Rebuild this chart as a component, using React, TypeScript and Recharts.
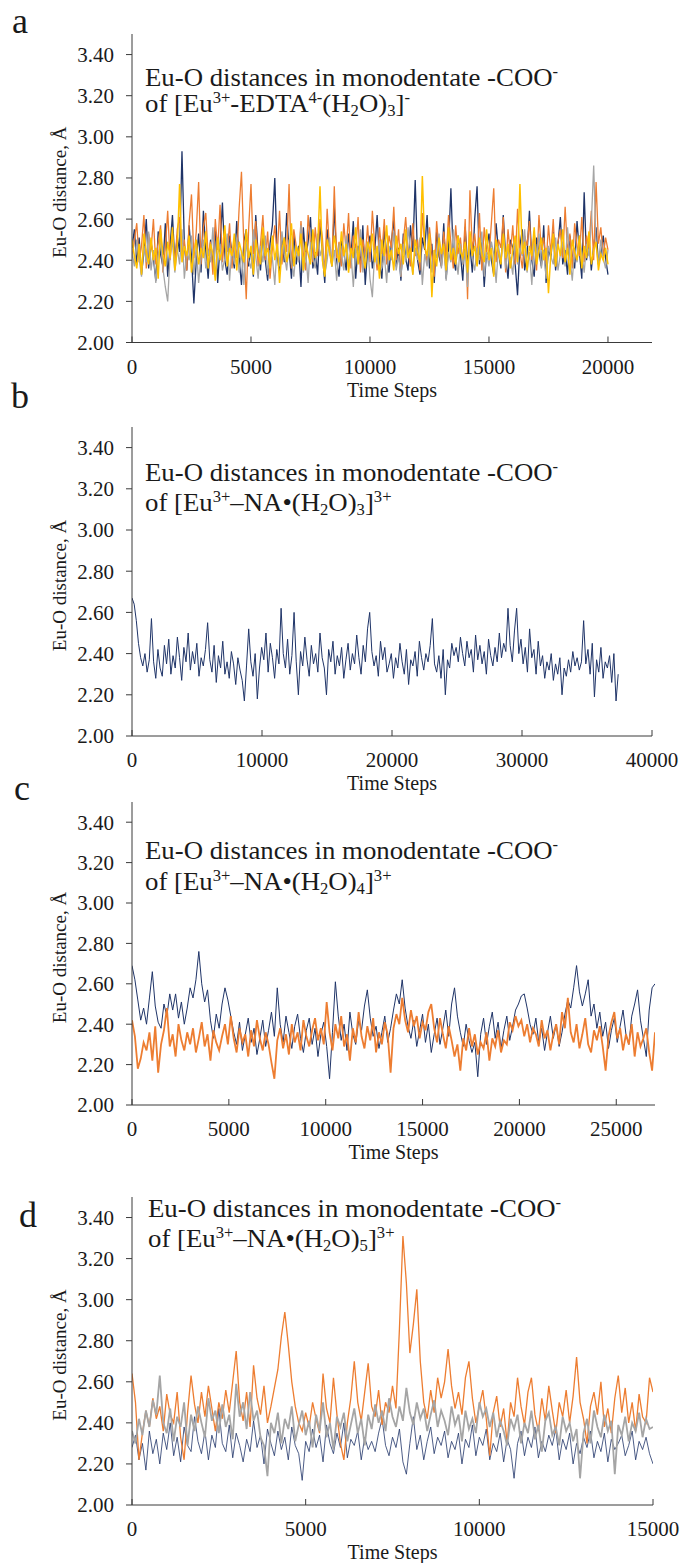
import React from "react";
import { LineChart, Line, XAxis, YAxis } from "recharts";

const FONT = '"Liberation Serif", "Times New Roman", Times, serif';
const AXIS = "#3a3a3a";
const TEXT = "#1a1a1a";
const NAVY = "#1f3468";
const ORANGE = "#ed7d31";
const GRAY = "#a5a5a5";
const YELLOW = "#ffc000";

const yTicks = [2.0, 2.2, 2.4, 2.6, 2.8, 3.0, 3.2, 3.4];

// ---- panel a : EDTA, 4 carboxylates ----
const aEnd = 20000;
const aTicks = [0, 5000, 10000, 15000, 20000];
const aNavy = [
  2.46, 2.55, 2.38, 2.51, 2.33, 2.44, 2.60, 2.36, 2.49, 2.41,
  2.30, 2.54, 2.43, 2.37, 2.58, 2.32, 2.47, 2.62, 2.39, 2.52,
  2.44, 2.93, 2.48, 2.35, 2.57, 2.42, 2.19, 2.40, 2.53, 2.34,
  2.64, 2.45, 2.31, 2.50, 2.38, 2.56, 2.29, 2.47, 2.68, 2.40,
  2.33, 2.52, 2.44, 2.36, 2.59, 2.41, 2.28, 2.49, 2.55, 2.37,
  2.46, 2.32, 2.62, 2.43, 2.35, 2.54, 2.40, 2.30, 2.48, 2.57,
  2.80, 2.42, 2.34, 2.51, 2.39, 2.63, 2.45, 2.31, 2.53, 2.38,
  2.47, 2.27, 2.56, 2.41, 2.49, 2.61, 2.36, 2.44, 2.33, 2.58,
  2.43, 2.29, 2.55, 2.46, 2.37, 2.66, 2.40, 2.32, 2.50, 2.44,
  2.35, 2.53, 2.42, 2.59, 2.31, 2.47, 2.38, 2.57, 2.28, 2.45,
  2.52, 2.36, 2.44, 2.62, 2.39, 2.31, 2.55, 2.43, 2.34, 2.49,
  2.60, 2.37, 2.46, 2.30, 2.53, 2.41, 2.35, 2.57, 2.44, 2.79,
  2.40, 2.33, 2.51, 2.45, 2.62, 2.36, 2.48, 2.29, 2.54, 2.42,
  2.37, 2.58, 2.31, 2.46, 2.75, 2.41, 2.35, 2.52, 2.43, 2.30,
  2.56, 2.39, 2.47, 2.34, 2.60, 2.76, 2.38, 2.49, 2.27, 2.45,
  2.53, 2.40, 2.33, 2.58, 2.44, 2.36, 2.62, 2.42, 2.31, 2.50,
  2.46, 2.38, 2.23, 2.47, 2.55, 2.35, 2.43, 2.64, 2.40, 2.32,
  2.51, 2.44, 2.37, 2.57, 2.29, 2.46, 2.41, 2.54, 2.35, 2.48,
  2.61, 2.38, 2.45, 2.33, 2.52, 2.42, 2.36, 2.59, 2.44, 2.31,
  2.73, 2.40, 2.50, 2.35, 2.47, 2.56, 2.38, 2.43, 2.52, 2.41,
  2.33,
];
const aOrange = [
  2.41, 2.50, 2.58, 2.39, 2.47, 2.62, 2.36, 2.53, 2.45, 2.60,
  2.38, 2.49, 2.57, 2.34, 2.46, 2.64, 2.40, 2.52, 2.37, 2.55,
  2.61, 2.43, 2.50, 2.35, 2.58, 2.72, 2.41, 2.54, 2.78, 2.38,
  2.56, 2.63, 2.42, 2.49, 2.33, 2.60, 2.45, 2.67, 2.39, 2.52,
  2.44, 2.58, 2.36, 2.50, 2.41, 2.65, 2.83, 2.47, 2.21, 2.55,
  2.77, 2.43, 2.59, 2.37, 2.48, 2.62, 2.40, 2.54, 2.31, 2.46,
  2.57, 2.42, 2.64, 2.38, 2.51, 2.44, 2.77, 2.36, 2.55, 2.47,
  2.40, 2.59, 2.43, 2.35, 2.62, 2.48, 2.39, 2.56, 2.42, 2.60,
  2.51, 2.33, 2.65, 2.45, 2.38, 2.76, 2.41, 2.49, 2.37, 2.58,
  2.44, 2.63, 2.36, 2.52, 2.45, 2.61, 2.34, 2.50, 2.42, 2.57,
  2.39, 2.64, 2.47, 2.35, 2.56, 2.43, 2.60, 2.38, 2.52, 2.46,
  2.66, 2.40, 2.55, 2.32, 2.49, 2.61, 2.44, 2.37, 2.58, 2.42,
  2.50, 2.35, 2.63, 2.47, 2.39, 2.56, 2.44, 2.32, 2.59, 2.45,
  2.37, 2.54, 2.41, 2.62, 2.48, 2.36, 2.57, 2.43, 2.51, 2.38,
  2.60, 2.21, 2.74, 2.45, 2.53, 2.40, 2.63, 2.35, 2.56, 2.44,
  2.42, 2.58, 2.75, 2.39, 2.50, 2.46, 2.61, 2.34, 2.55, 2.43,
  2.57, 2.38, 2.65, 2.44, 2.36, 2.52, 2.47, 2.59, 2.40, 2.54,
  2.35, 2.62, 2.45, 2.51, 2.38, 2.57, 2.43, 2.60, 2.37, 2.49,
  2.55, 2.41, 2.66, 2.44, 2.53, 2.36, 2.58, 2.47, 2.42, 2.61,
  2.39, 2.52, 2.46, 2.64, 2.40, 2.78, 2.48, 2.56, 2.42, 2.51,
  2.45,
];
const aGray = [
  2.44, 2.37, 2.50, 2.41, 2.32, 2.47, 2.39, 2.54, 2.35, 2.45,
  2.29, 2.42, 2.51, 2.36, 2.27, 2.20, 2.43, 2.49, 2.34, 2.46,
  2.38, 2.55, 2.31, 2.44, 2.40, 2.52, 2.33, 2.47, 2.29, 2.42,
  2.50, 2.36, 2.45, 2.39, 2.56, 2.32, 2.43, 2.48, 2.35, 2.41,
  2.53, 2.30, 2.46, 2.38, 2.51, 2.34, 2.44, 2.28, 2.49, 2.40,
  2.36, 2.55, 2.42, 2.31, 2.47, 2.39, 2.52, 2.33, 2.45, 2.41,
  2.28, 2.48, 2.37, 2.54, 2.43, 2.35, 2.50, 2.40, 2.32, 2.46,
  2.39, 2.57, 2.34, 2.44, 2.29, 2.49, 2.41, 2.36, 2.53, 2.42,
  2.47, 2.33, 2.40, 2.51, 2.37, 2.45, 2.30, 2.48, 2.43, 2.35,
  2.52, 2.38, 2.44, 2.27, 2.46, 2.41, 2.55, 2.34, 2.42, 2.49,
  2.31, 2.22, 2.45, 2.38, 2.50, 2.36, 2.43, 2.29, 2.47, 2.40,
  2.54, 2.35, 2.42, 2.32, 2.48, 2.39, 2.56, 2.44, 2.33, 2.46,
  2.40, 2.51, 2.28, 2.43, 2.37, 2.49, 2.34, 2.45, 2.41, 2.53,
  2.36, 2.47, 2.30, 2.44, 2.39, 2.55, 2.42, 2.33, 2.48, 2.38,
  2.45, 2.27, 2.50, 2.41, 2.35, 2.46, 2.40, 2.54, 2.32, 2.44,
  2.37, 2.49, 2.43, 2.29, 2.47, 2.39, 2.52, 2.36, 2.45, 2.41,
  2.33, 2.50, 2.38, 2.46, 2.42, 2.55, 2.34, 2.44, 2.28, 2.48,
  2.40, 2.53, 2.36, 2.45, 2.31, 2.47, 2.42, 2.38, 2.51, 2.35,
  2.43, 2.49, 2.37, 2.56, 2.41, 2.30, 2.46, 2.39, 2.52, 2.44,
  2.34, 2.48, 2.42, 2.58, 2.86, 2.47, 2.38, 2.50, 2.41, 2.36,
  2.45,
];
const aYellow = [
  2.50, 2.42, 2.36, 2.48, 2.33, 2.53, 2.44, 2.38, 2.51, 2.40,
  2.46, 2.31, 2.55, 2.43, 2.37, 2.49, 2.41, 2.56, 2.35, 2.45,
  2.77, 2.39, 2.47, 2.42, 2.52, 2.34, 2.44, 2.50, 2.38, 2.46,
  2.41, 2.54, 2.36, 2.48, 2.43, 2.30, 2.51, 2.40, 2.45, 2.57,
  2.37, 2.46, 2.42, 2.53, 2.35, 2.49, 2.44, 2.39, 2.55, 2.41,
  2.47, 2.33, 2.50, 2.43, 2.38, 2.56, 2.42, 2.46, 2.36, 2.52,
  2.40, 2.48, 2.29, 2.45, 2.51, 2.39, 2.44, 2.58, 2.37, 2.47,
  2.42, 2.53, 2.35, 2.49, 2.43, 2.38, 2.55, 2.41, 2.46, 2.76,
  2.40, 2.32, 2.50, 2.44, 2.37, 2.52, 2.45, 2.39, 2.54, 2.42,
  2.48, 2.34, 2.46, 2.41, 2.56, 2.38, 2.51, 2.43, 2.36, 2.49,
  2.44, 2.53, 2.39, 2.47, 2.31, 2.50, 2.42, 2.57, 2.40, 2.45,
  2.35, 2.52, 2.43, 2.48, 2.38, 2.55, 2.41, 2.46, 2.33, 2.50,
  2.44, 2.39, 2.81, 2.47, 2.42, 2.53, 2.22, 2.45, 2.37, 2.51,
  2.43, 2.48, 2.35, 2.56, 2.40, 2.46, 2.38, 2.52, 2.44, 2.41,
  2.49, 2.34, 2.54, 2.42, 2.47, 2.37, 2.51, 2.43, 2.39, 2.55,
  2.40, 2.46, 2.32, 2.50, 2.44, 2.38, 2.53, 2.41, 2.48, 2.36,
  2.45, 2.52, 2.39, 2.77, 2.43, 2.49, 2.35, 2.47, 2.42, 2.56,
  2.38, 2.45, 2.51, 2.40, 2.46, 2.24, 2.43, 2.53, 2.37, 2.48,
  2.42, 2.55, 2.39, 2.46, 2.33, 2.50, 2.44, 2.40, 2.52, 2.36,
  2.47, 2.41, 2.54, 2.38, 2.45, 2.49, 2.35, 2.43, 2.40, 2.46,
  2.38,
];

// ---- panel b : NA (H2O)3 ----
const bEnd = 37400;
const bTicks = [0, 10000, 20000, 30000, 40000];
const bNavy = [
  2.67, 2.64, 2.56, 2.45, 2.38, 2.34, 2.40, 2.31, 2.37, 2.57,
  2.36, 2.28, 2.42, 2.33, 2.29, 2.44, 2.35, 2.47, 2.30, 2.39,
  2.33, 2.48, 2.38, 2.27, 2.43, 2.36, 2.50, 2.32, 2.41, 2.35,
  2.45, 2.29, 2.38, 2.34, 2.42, 2.55, 2.37, 2.31, 2.44, 2.26,
  2.39, 2.33, 2.46, 2.30, 2.36, 2.28, 2.41, 2.35, 2.25, 2.38,
  2.32, 2.27, 2.17, 2.34, 2.52, 2.36, 2.29, 2.40, 2.18, 2.33,
  2.43, 2.37, 2.50, 2.31, 2.45, 2.38, 2.28, 2.42, 2.35, 2.62,
  2.40, 2.33, 2.47, 2.30, 2.39, 2.60, 2.36, 2.20, 2.41, 2.34,
  2.48, 2.37, 2.29, 2.44, 2.35, 2.40, 2.31, 2.50, 2.38, 2.33,
  2.20, 2.42, 2.36, 2.46, 2.30, 2.39, 2.34, 2.43, 2.28, 2.37,
  2.45, 2.32, 2.40, 2.35, 2.49, 2.38, 2.30, 2.44, 2.36, 2.52,
  2.60, 2.41, 2.34, 2.39, 2.29, 2.46, 2.37, 2.43, 2.31, 2.35,
  2.40, 2.28, 2.38, 2.33, 2.45, 2.36, 2.30, 2.42, 2.25, 2.37,
  2.34, 2.41, 2.29, 2.46, 2.38, 2.32, 2.40, 2.36, 2.44, 2.57,
  2.35, 2.31, 2.39, 2.28, 2.42, 2.20, 2.37, 2.33, 2.45, 2.39,
  2.43, 2.36, 2.48, 2.40, 2.34, 2.46, 2.38, 2.42, 2.31, 2.49,
  2.37, 2.44, 2.35, 2.41, 2.30, 2.47, 2.39, 2.34, 2.43, 2.36,
  2.50, 2.38, 2.45, 2.41, 2.62, 2.44, 2.36, 2.51, 2.62, 2.40,
  2.47, 2.35, 2.43, 2.31, 2.52, 2.38, 2.42, 2.30, 2.46, 2.34,
  2.39, 2.28, 2.36, 2.32, 2.40, 2.27, 2.35, 2.30, 2.38, 2.20,
  2.33, 2.29, 2.37, 2.31, 2.41, 2.34, 2.38, 2.32, 2.36, 2.56,
  2.35, 2.42, 2.30, 2.45, 2.19, 2.37, 2.31, 2.43, 2.28, 2.36,
  2.33, 2.39, 2.26, 2.40, 2.17, 2.30,
];

// ---- panel c : NA (H2O)4 ----
const cEnd = 27000;
const cTicks = [0, 5000, 10000, 15000, 20000, 25000];
const cNavy = [
  2.69, 2.62, 2.52, 2.42, 2.48, 2.40, 2.53, 2.66, 2.49, 2.41,
  2.38, 2.50, 2.44, 2.55, 2.47, 2.55, 2.43, 2.51, 2.40, 2.48,
  2.58, 2.53, 2.62, 2.76, 2.60, 2.51, 2.57, 2.42, 2.33, 2.45,
  2.38, 2.50, 2.58, 2.52, 2.44, 2.36, 2.30, 2.41, 2.27, 2.35,
  2.43, 2.31, 2.38, 2.25, 2.33, 2.42, 2.29, 2.37, 2.46, 2.34,
  2.58, 2.40, 2.31, 2.44, 2.36, 2.28, 2.39, 2.45, 2.33, 2.26,
  2.37, 2.43, 2.30, 2.38, 2.24, 2.35, 2.41, 2.29, 2.13, 2.36,
  2.61, 2.44, 2.32, 2.40, 2.27, 2.46, 2.35, 2.30, 2.42, 2.37,
  2.49, 2.57, 2.43, 2.34, 2.39, 2.28, 2.36, 2.44, 2.31, 2.38,
  2.47, 2.55, 2.50, 2.62, 2.48, 2.39, 2.33, 2.42, 2.29, 2.37,
  2.45, 2.31, 2.40, 2.26, 2.35, 2.43, 2.30, 2.38, 2.47, 2.34,
  2.50, 2.58, 2.44, 2.36, 2.29, 2.40, 2.32, 2.26, 2.31, 2.14,
  2.35, 2.43, 2.30, 2.39, 2.46, 2.33, 2.41, 2.28, 2.37, 2.44,
  2.32, 2.39, 2.47, 2.50, 2.54, 2.55, 2.48, 2.40, 2.35, 2.43,
  2.31, 2.38, 2.27, 2.36, 2.44, 2.33, 2.40, 2.29, 2.36, 2.45,
  2.52, 2.48, 2.58, 2.69, 2.56, 2.49, 2.55, 2.62, 2.44, 2.50,
  2.38, 2.46, 2.34, 2.41, 2.28, 2.37, 2.43, 2.31, 2.39, 2.47,
  2.35, 2.30, 2.44, 2.50, 2.57, 2.42, 2.33, 2.24, 2.47, 2.58,
  2.60,
];
const cOrange = [
  2.42, 2.34, 2.18, 2.23, 2.31, 2.27, 2.36, 2.22, 2.39, 2.16,
  2.30, 2.37, 2.48, 2.29, 2.35, 2.24, 2.40, 2.32, 2.27, 2.36,
  2.30, 2.38, 2.26, 2.33, 2.41, 2.29, 2.35, 2.22, 2.37, 2.31,
  2.27, 2.34, 2.40, 2.30, 2.44, 2.33, 2.26, 2.38, 2.31, 2.35,
  2.24, 2.37, 2.29, 2.42, 2.33, 2.27, 2.36, 2.30, 2.21, 2.13,
  2.32, 2.38, 2.28, 2.35, 2.25, 2.40, 2.31, 2.36, 2.27, 2.42,
  2.34, 2.29, 2.37, 2.43, 2.32, 2.38, 2.30, 2.51, 2.36, 2.27,
  2.40, 2.33, 2.44, 2.29, 2.35, 2.22, 2.38, 2.31, 2.46, 2.34,
  2.28, 2.39, 2.32, 2.43, 2.26, 2.36, 2.30, 2.41, 2.35, 2.16,
  2.38, 2.45, 2.40, 2.53, 2.42, 2.36, 2.47, 2.39, 2.44, 2.33,
  2.41, 2.37, 2.46, 2.50, 2.38, 2.31, 2.43, 2.35, 2.28, 2.39,
  2.32, 2.24, 2.30, 2.17, 2.33, 2.27, 2.38, 2.29, 2.35, 2.25,
  2.31, 2.28, 2.36, 2.22, 2.33, 2.29, 2.37, 2.26, 2.32, 2.30,
  2.41, 2.37, 2.44, 2.39, 2.42, 2.34, 2.40, 2.31, 2.38, 2.35,
  2.29, 2.42, 2.33, 2.37, 2.27, 2.35, 2.40, 2.30, 2.46, 2.38,
  2.53, 2.36, 2.31, 2.40, 2.28, 2.35, 2.43, 2.30, 2.26, 2.37,
  2.32, 2.39, 2.29, 2.17, 2.34, 2.41, 2.46, 2.33, 2.38, 2.27,
  2.35, 2.30, 2.40, 2.24, 2.36, 2.29, 2.33, 2.38, 2.26, 2.17,
  2.36,
];

// ---- panel d : NA (H2O)5 ----
const dEnd = 15000;
const dTicks = [0, 5000, 10000, 15000];
const dNavy = [
  2.28, 2.34, 2.22, 2.30, 2.17, 2.36, 2.25, 2.32, 2.20, 2.35,
  2.27, 2.40, 2.24, 2.33, 2.21, 2.38, 2.29, 2.26, 2.43, 2.31,
  2.25, 2.36, 2.22, 2.34, 2.28, 2.47, 2.30, 2.26, 2.39, 2.23,
  2.35, 2.29, 2.21, 2.32, 2.26, 2.41, 2.28, 2.34, 2.20, 2.37,
  2.30, 2.24, 2.36, 2.27, 2.33, 2.22, 2.38, 2.29, 2.25, 2.12,
  2.31, 2.26, 2.37, 2.28, 2.34, 2.21, 2.39, 2.30, 2.25, 2.35,
  2.28, 2.40, 2.23, 2.32, 2.29, 2.36, 2.22, 2.33, 2.27, 2.31,
  2.26, 2.35, 2.42, 2.29, 2.24, 2.33, 2.28, 2.37, 2.21, 2.15,
  2.30, 2.43, 2.27, 2.34, 2.22, 2.31, 2.38, 2.25, 2.33, 2.29,
  2.36, 2.23, 2.31, 2.27, 2.35, 2.20, 2.32, 2.28, 2.39, 2.24,
  2.33, 2.29, 2.37, 2.22, 2.30, 2.26, 2.35, 2.21, 2.32, 2.27,
  2.13, 2.30, 2.36, 2.24, 2.33, 2.28, 2.38, 2.23, 2.31, 2.26,
  2.34, 2.29, 2.37, 2.22, 2.32, 2.27, 2.35, 2.20, 2.30, 2.25,
  2.33, 2.28, 2.36, 2.23, 2.31, 2.26, 2.35, 2.21, 2.32, 2.27,
  2.30, 2.34, 2.24, 2.29, 2.36, 2.22, 2.31, 2.27, 2.33, 2.25,
  2.20,
];
const dOrange = [
  2.64, 2.50, 2.22, 2.35, 2.46, 2.38, 2.52, 2.42, 2.48, 2.36,
  2.54, 2.44, 2.40, 2.55, 2.33, 2.22, 2.45, 2.63, 2.49, 2.40,
  2.55, 2.43, 2.58, 2.47, 2.36, 2.50, 2.42, 2.56, 2.45, 2.60,
  2.75, 2.50, 2.41, 2.55, 2.38, 2.68, 2.52, 2.44, 2.58, 2.40,
  2.48, 2.57, 2.66, 2.82, 2.94, 2.78, 2.60, 2.48, 2.40, 2.36,
  2.45, 2.38, 2.50, 2.42, 2.35, 2.64, 2.47, 2.40, 2.62, 2.44,
  2.30, 2.22, 2.40, 2.52, 2.70, 2.50, 2.41, 2.55, 2.69, 2.48,
  2.43, 2.56, 2.39, 2.50, 2.45, 2.58, 2.47, 2.86, 3.31, 3.08,
  2.74, 2.88, 3.05, 2.70, 2.50, 2.42, 2.56, 2.45, 2.62, 2.52,
  2.60, 2.76, 2.58, 2.47, 2.55, 2.44, 2.62, 2.70, 2.52, 2.40,
  2.48, 2.56, 2.42, 2.24, 2.45, 2.53, 2.38, 2.47, 2.30, 2.50,
  2.43, 2.62, 2.48, 2.39, 2.55, 2.62, 2.44, 2.36, 2.52, 2.41,
  2.58, 2.46, 2.35, 2.50, 2.43, 2.56, 2.40, 2.53, 2.72, 2.50,
  2.42, 2.30, 2.48, 2.55, 2.44, 2.60, 2.38, 2.47, 2.35, 2.52,
  2.63, 2.45, 2.57, 2.40, 2.50, 2.36, 2.54, 2.43, 2.40, 2.62,
  2.55,
];
const dGray = [
  2.36, 2.30, 2.42, 2.34, 2.46, 2.38, 2.51, 2.44, 2.63, 2.40,
  2.35, 2.47, 2.31, 2.43, 2.38, 2.50, 2.29, 2.44, 2.36, 2.48,
  2.40, 2.33, 2.52, 2.41, 2.46, 2.35, 2.49, 2.38, 2.44, 2.32,
  2.59, 2.43, 2.50, 2.37, 2.55, 2.41, 2.46, 2.33, 2.29, 2.14,
  2.40, 2.35, 2.45, 2.30, 2.42, 2.37, 2.48, 2.31, 2.39, 2.46,
  2.34, 2.41, 2.28, 2.44, 2.36, 2.50, 2.33, 2.40, 2.27, 2.43,
  2.38, 2.45, 2.31, 2.39, 2.47, 2.35, 2.42, 2.29, 2.44, 2.37,
  2.49, 2.40, 2.46, 2.36, 2.52, 2.43, 2.38, 2.48, 2.41, 2.57,
  2.45, 2.39, 2.50, 2.42, 2.47, 2.36, 2.44, 2.51, 2.38, 2.46,
  2.41, 2.34, 2.48, 2.39, 2.44, 2.31, 2.46, 2.37, 2.42, 2.35,
  2.50, 2.43, 2.47, 2.38, 2.45, 2.33, 2.41, 2.36, 2.29, 2.42,
  2.37, 2.44, 2.30, 2.40, 2.35, 2.46, 2.32, 2.39, 2.26, 2.41,
  2.45, 2.34, 2.38, 2.29, 2.43, 2.36, 2.40, 2.31, 2.37, 2.13,
  2.35, 2.42, 2.30, 2.46, 2.38, 2.33, 2.44, 2.36, 2.41, 2.15,
  2.39, 2.34, 2.43, 2.31, 2.40, 2.36, 2.45, 2.33, 2.42, 2.37,
  2.38,
];

type Series = { key: string; values: number[]; color: string; width: number };

const XTick = (props: any) => {
  const { x, y, payload } = props;
  return (
    <g>
      <line x1={x} y1={y} x2={x} y2={y - 6} stroke={AXIS} strokeWidth={1} />
      <text x={x} y={y + 31} textAnchor="middle" fontSize={21} fill={TEXT}>
        {payload.value}
      </text>
    </g>
  );
};

const M_TOP = 30;
const AXIS_H = 60;

function Panel(props: {
  top: number;
  bottom: number;
  right: number;
  xMax: number;
  xTicks: number[];
  end: number;
  series: Series[];
}) {
  const { top, bottom, right, xMax, xTicks, end, series } = props;
  const n = series[0].values.length;
  const data = series[0].values.map((_, i) => {
    const row: Record<string, number> = { t: (i * end) / (n - 1) };
    series.forEach((s) => {
      row[s.key] = s.values[i];
    });
    return row;
  });
  const plotH = bottom - top;
  const cy = M_TOP + plotH / 2 + 4;
  return (
    <div style={{ position: "absolute", left: 0, top: top - M_TOP }}>
      <LineChart
        width={680}
        height={M_TOP + plotH + AXIS_H}
        data={data}
        margin={{ top: M_TOP, right: 680 - right, bottom: 0, left: 0 }}
      >
        <XAxis
          type="number"
          dataKey="t"
          domain={[0, xMax]}
          ticks={xTicks}
          interval={0}
          allowDataOverflow
          stroke={AXIS}
          tickLine={false}
          tickSize={0}
          tickMargin={0}
          tick={<XTick />}
          height={AXIS_H}
          label={{ value: "Time Steps", position: "insideBottom", offset: 6, fontSize: 20, fill: TEXT }}
        />
        <YAxis
          type="number"
          domain={[2, 3.5]}
          ticks={yTicks}
          interval={0}
          allowDataOverflow
          width={132}
          stroke={AXIS}
          tickSize={6}
          tickMargin={12}
          tick={{ fontSize: 21, fill: TEXT }}
          tickFormatter={(v: number) => v.toFixed(2)}
          label={{
            content: () => (
              <text transform={`translate(66, ${cy}) rotate(-90)`} textAnchor="middle" fontSize={19} fill={TEXT}>
                Eu-O distance, Å
              </text>
            ),
          }}
        />
        {series.map((s) => (
          <Line
            key={s.key}
            dataKey={s.key}
            type="linear"
            stroke={s.color}
            strokeWidth={s.width}
            dot={false}
            activeDot={false}
            isAnimationActive={false}
          />
        ))}
      </LineChart>
    </div>
  );
}

const sup = { fontSize: "0.62em", position: "relative" as const, top: "-0.55em" };
const sub = { fontSize: "0.62em", position: "relative" as const, top: "0.22em" };

function TitleLine({ x, base, children }: { x: number; base: number; children: React.ReactNode }) {
  return (
    <div
      style={{
        position: "absolute",
        left: x,
        top: base - 21.8,
        fontSize: 26,
        lineHeight: "26px",
        whiteSpace: "nowrap",
        color: TEXT,
        transform: "scaleX(1.03)",
        transformOrigin: "left top",
      }}
    >
      {children}
    </div>
  );
}

function Title({ x, b1, b2, line2 }: { x: number; b1: number; b2: number; line2: React.ReactNode }) {
  return (
    <>
      <TitleLine x={x} base={b1}>
        Eu-O distances in monodentate -COO<span style={sup}>-</span>
      </TitleLine>
      <TitleLine x={x} base={b2}>
        {line2}
      </TitleLine>
    </>
  );
}

const naLine = (w: string) => (
  <>
    of [Eu<span style={sup}>3+</span>–NA•(H<span style={sub}>2</span>O)<span style={sub}>{w}</span>]
    <span style={sup}>3+</span>
  </>
);

function Letter({ x, base, ch }: { x: number; base: number; ch: string }) {
  return (
    <div style={{ position: "absolute", left: x, top: base - 30.2, fontSize: 36, lineHeight: "36px", color: TEXT }}>
      {ch}
    </div>
  );
}

export default function App() {
  return (
    <div
      style={{
        position: "absolute",
        left: 0,
        top: 0,
        width: 680,
        height: 1563,
        background: "#fff",
        fontFamily: FONT,
        overflow: "hidden",
      }}
    >
      <Panel
        top={33.5}
        bottom={342}
        right={652}
        xMax={21850}
        xTicks={aTicks}
        end={aEnd}
        series={[
          { key: "navy", values: aNavy, color: NAVY, width: 1.3 },
          { key: "orange", values: aOrange, color: ORANGE, width: 1.3 },
          { key: "gray", values: aGray, color: GRAY, width: 1.3 },
          { key: "yellow", values: aYellow, color: YELLOW, width: 1.5 },
        ]}
      />
      <Panel
        top={427}
        bottom={736}
        right={652}
        xMax={40000}
        xTicks={bTicks}
        end={bEnd}
        series={[{ key: "navy", values: bNavy, color: NAVY, width: 1 }]}
      />
      <Panel
        top={802}
        bottom={1105}
        right={655}
        xMax={27000}
        xTicks={cTicks}
        end={cEnd}
        series={[
          { key: "navy", values: cNavy, color: NAVY, width: 1 },
          { key: "orange", values: cOrange, color: ORANGE, width: 1.8 },
        ]}
      />
      <Panel
        top={1197}
        bottom={1505}
        right={653}
        xMax={15000}
        xTicks={dTicks}
        end={dEnd}
        series={[
          { key: "navy", values: dNavy, color: NAVY, width: 0.8 },
          { key: "orange", values: dOrange, color: ORANGE, width: 1.3 },
          { key: "gray", values: dGray, color: GRAY, width: 1.8 },
        ]}
      />

      <Title
        x={145}
        b1={87}
        b2={113}
        line2={
          <>
            of [Eu<span style={sup}>3+</span>-EDTA<span style={sup}>4-</span>(H<span style={sub}>2</span>O)
            <span style={sub}>3</span>]<span style={sup}>-</span>
          </>
        }
      />
      <Title x={145} b1={482} b2={512} line2={naLine("3")} />
      <Title x={145} b1={860} b2={891} line2={naLine("4")} />
      <Title x={148} b1={1218} b2={1248} line2={naLine("5")} />

      <Letter x={12} base={33} ch="a" />
      <Letter x={11} base={408} ch="b" />
      <Letter x={14} base={800} ch="c" />
      <Letter x={19} base={1227} ch="d" />
    </div>
  );
}
